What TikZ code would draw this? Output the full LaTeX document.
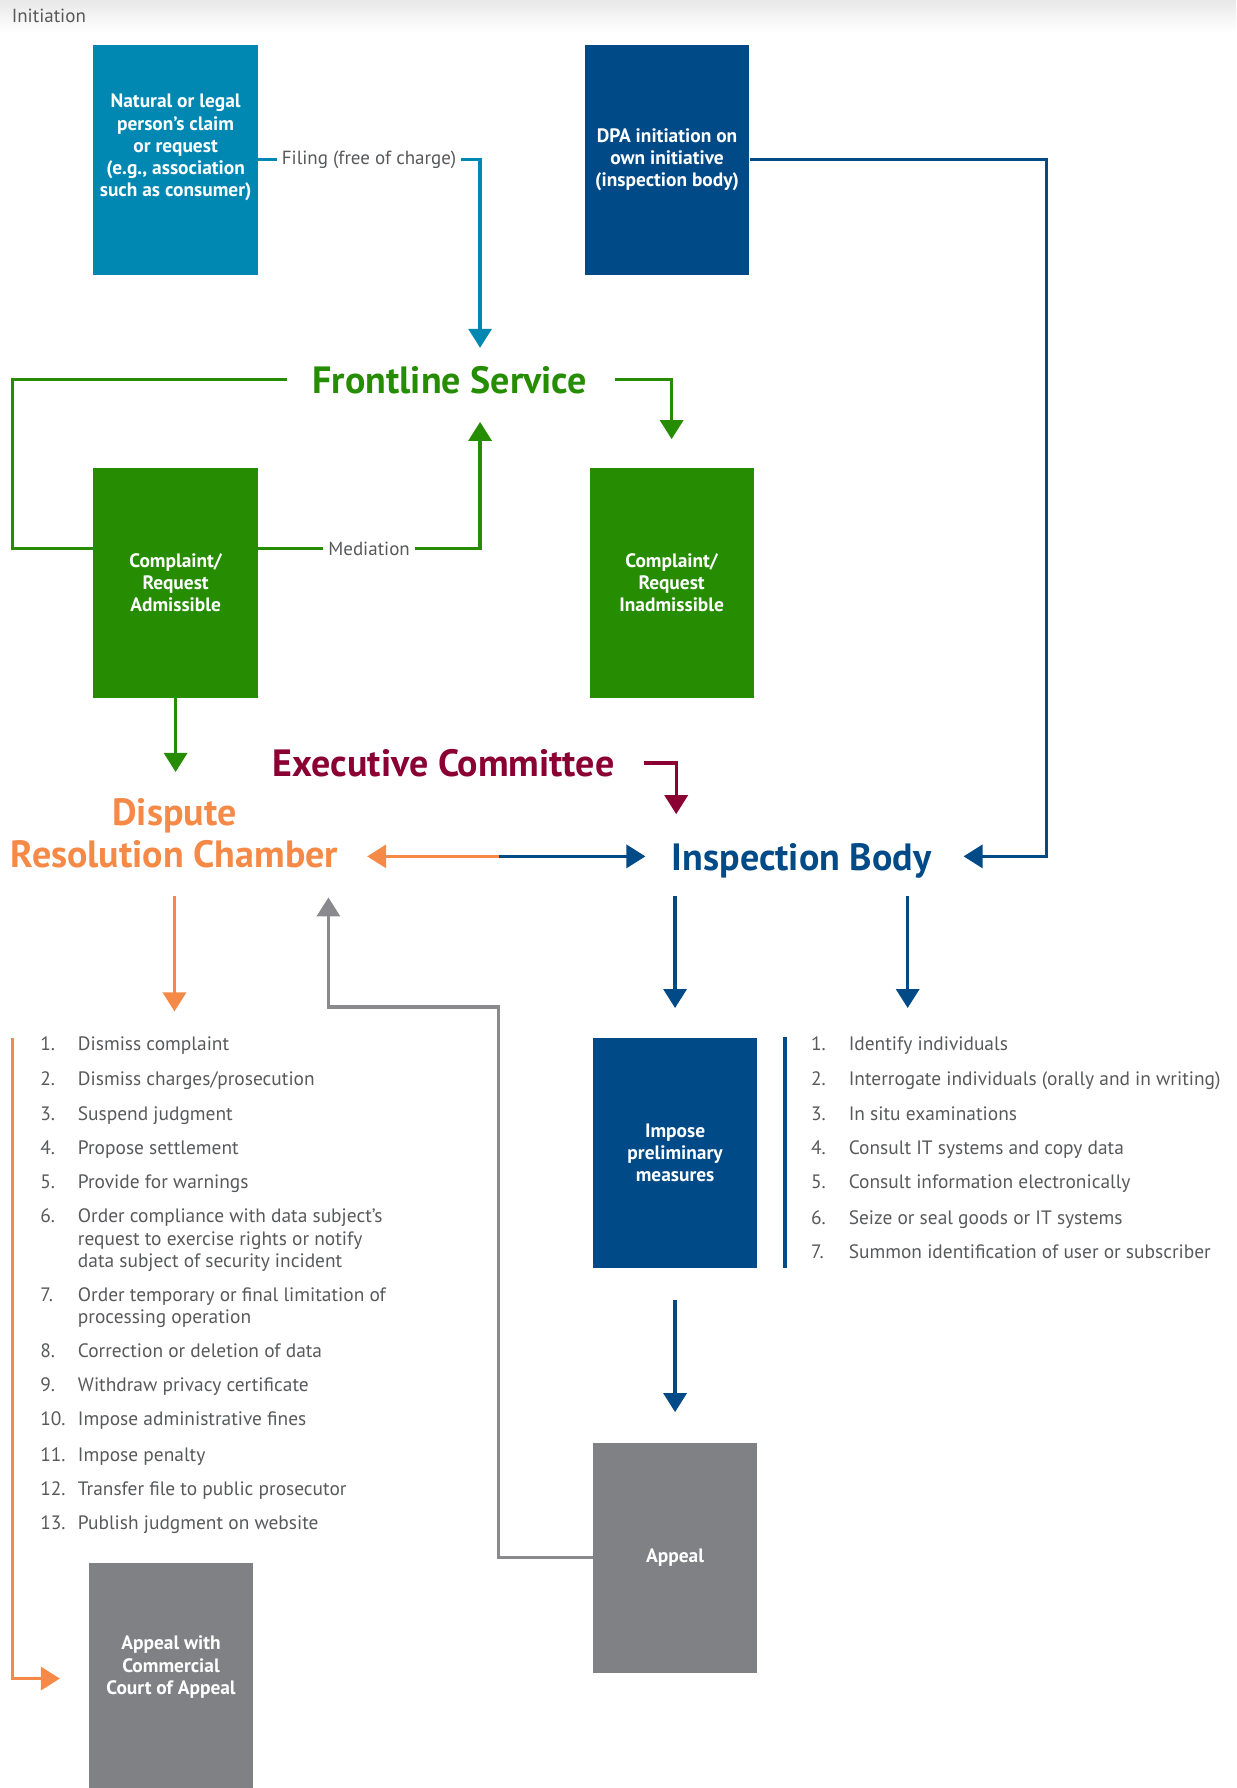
\documentclass[tikz,border=0pt]{standalone}
\usepackage{fontspec}
\setmainfont{PT Sans}
\usetikzlibrary{positioning}
\usetikzlibrary{arrows.meta}
\usetikzlibrary{calc}

\definecolor{tealc}{HTML}{0088B3}
\definecolor{navy}{HTML}{004A87}
\definecolor{grn}{HTML}{268D03}
\definecolor{wine}{HTML}{8B0033}
\definecolor{orng}{HTML}{F58A48}
\definecolor{boxgray}{HTML}{808184}
\definecolor{txtgray}{HTML}{58595B}
\definecolor{linegray}{HTML}{8A8A8E}

\tikzstyle{box}=[rectangle,minimum width=82.1pt,minimum height=115.1pt,inner sep=0pt]
\tikzstyle{boxtext}=[text=white,align=center,font=\bfseries\fontsize{9.7}{11.1}\selectfont,inner sep=0pt]
\tikzstyle{heading}=[font=\bfseries\fontsize{19}{21}\selectfont,inner sep=0pt]
\tikzstyle{lbl}=[fill=white,text=txtgray,font=\fontsize{9.5}{11}\selectfont,inner xsep=2.5pt,inner ysep=1pt]
\tikzstyle{item}=[text=txtgray,font=\fontsize{9.7}{11.1}\selectfont,inner sep=0pt,anchor=base west]
\tikzstyle{link} = [draw,line width=1.65pt]
\tikzstyle{arrow} = [draw,line width=1.65pt,-{Triangle[length=9.5pt,width=11.5pt]}]

\begin{document}
\begin{tikzpicture}[x=0.57pt,y=-0.57pt]

  \useasboundingbox (0,0) rectangle (1084,1568);
  \shade[top color=black!9,bottom color=white] (0,0) rectangle (1084,28);

  \node[item,font=\fontsize{9.5}{11}\selectfont] (init) at (10,19.5) {Initiation};

  % the coloured boxes
  \foreach \x/\y/\ty/\name/\col/\label in {154/140/129.5/nat/tealc/{Natural or legal\\person’s claim\\or request\\(e.g., association\\such as consumer)},
      585/140/140/dpa/navy/{DPA initiation on\\own initiative\\(inspection body)},
      154/511/511/adm/grn/{Complaint/\\Request\\Admissible},
      589/511/511/inadm/grn/{Complaint/\\Request\\Inadmissible},
      592/1011/1011/prelim/navy/{Impose\\preliminary\\measures},
      592/1366/1366/appeal/boxgray/{Appeal},
      150/1472/1462/court/boxgray/{Appeal with\\Commercial\\Court of Appeal}}
  {
    \node[box,fill=\col] (\name) at (\x,\y) {};
    \node[boxtext] (\name-t) at (\x,\ty) {\label};
  }

  \node[heading,text=grn,anchor=base] (front) at (394.5,345) {Frontline Service};
  \node[heading,text=wine,anchor=base] (exec) at (389,681) {Executive Committee};
  \node[heading,text=orng,align=center,anchor=south] (drc) at (153,762) {Dispute\\Resolution Chamber};
  \node[heading,text=navy,anchor=base] (ib) at (703,763) {Inspection Body};

  \foreach \name/\x/\y in {fin/421/305, fout/421/370, floop/11/481, fleft/252/333, fright/539/333,
      exr/565/669, ectip/593/714, dtip/154/677, mid/438/751, dl/322/751, ibl/566/751,
      ibr/918/751, ibin/845/751, ds/153/786, dend/153/887, g1/437/883, g2/288/787,
      ia/592/786, ib1t/592/884, ib2s/796/786, ib2t/796/884, obar/11/910}
    \coordinate (\name) at (\x,\y);

  \draw[arrow,tealc] (nat.east) -- node[lbl] {Filing (free of charge)} (nat.east -| fin) -- (fin);
  \draw[arrow,navy] (dpa.east) -| (ibr) -- (ibin);

  \draw[link,grn] (fleft) -- (fleft -| floop) -- (floop) -- (adm.west |- floop);
  \draw[arrow,grn] (fright) -| ([yshift=14pt]inadm.north);
  \draw[arrow,grn] (adm.east |- floop) -- node[lbl] {Mediation} (floop -| fout) -- (fout);
  \draw[arrow,grn] (adm.south) -- (dtip);

  \draw[arrow,wine] (exr) -| (ectip);
  \draw[arrow,orng] (mid) -- (dl);
  \draw[arrow,navy] (mid) -- (ibl);

  \draw[arrow,orng] (ds) -- (dend);
  \draw[arrow,linegray] (appeal.west) -| (g1) -| (g2);
  \draw[arrow,navy] (ia) -- (ib1t);
  \draw[arrow,navy] (ib2s) -- (ib2t);
  \draw[arrow,navy] ([yshift=-16pt]prelim.south) -- ([yshift=15pt]appeal.north);

  \draw[arrow,orng] (obar) |- ([xshift=-14.3pt]court.west);
  \draw[link,navy] ($(prelim.north east)+(24,0)$) -- ($(prelim.south east)+(24,0)$);

  % Dispute Resolution Chamber decisions
  \foreach \y/\n in {916/1, 946/2, 977/3, 1007/4, 1037/5, 1067/6, 1136/7, 1185/8, 1215/9, 1245/10, 1276/11, 1306/12, 1336/13}
    \node[item] (ln\n) at (35,\y+5.5) {\n.};
  \foreach \y/\label [count=\i] in {916/Dismiss complaint, 946/{Dismiss charges/prosecution}, 977/Suspend judgment,
      1007/Propose settlement, 1037/Provide for warnings, 1067/Order compliance with data subject’s,
      1087/request to exercise rights or notify, 1106/data subject of security incident,
      1136/Order temporary or final limitation of, 1155/processing operation, 1185/Correction or deletion of data,
      1215/Withdraw privacy certificate, 1245/Impose administrative fines, 1276/Impose penalty,
      1306/Transfer file to public prosecutor, 1336/Publish judgment on website}
    \node[item] (lt\i) at (68,\y+5.5) {\label};

  % Inspection Body measures
  \foreach \y/\label [count=\i] in {916/Identify individuals, 946/Interrogate individuals (orally and in writing),
      977/In situ examinations, 1007/Consult IT systems and copy data, 1037/Consult information electronically,
      1068/Seize or seal goods or IT systems, 1098/Summon identification of user or subscriber}
  {
    \node[item] (rn\i) at (711,\y+5.5) {\i.};
    \node[item] (rt\i) at (744,\y+5.5) {\label};
  }

\end{tikzpicture}
\end{document}
